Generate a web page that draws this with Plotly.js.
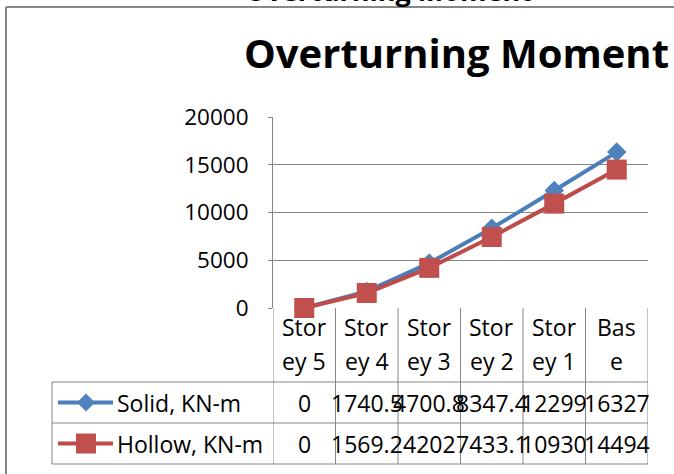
<!DOCTYPE html>
<html>
<head>
<meta charset="utf-8">
<script src="https://cdn.plot.ly/plotly-3.0.1.min.js"></script>
<style>html,body{margin:0;padding:0;background:#fff;}#chart{width:674px;height:474px;}</style>
</head>
<body>
<div id="chart"></div>
<script>
// ---- data ----
const categories = ["Storey 5", "Storey 4", "Storey 3", "Storey 2", "Storey 1", "Base"];
const catLine1 = ["Stor", "Stor", "Stor", "Stor", "Stor", "Bas"];
const catLine2 = ["ey 5", "ey 4", "ey 3", "ey 2", "ey 1", "e"];
const solid = [0, 1740.5, 4700.8, 8347.4, 12299, 16327];
const hollow = [0, 1569.2, 4202, 7433.1, 10930, 14494];
const solidLabels = ["0", "1740.5", "4700.8", "8347.4", "12299", "16327"];
const hollowLabels = ["0", "1569.2", "4202", "7433.1", "10930", "14494"];
const seriesNames = ["Solid, KN-m", "Hollow, KN-m"];
const yTicks = [0, 5000, 10000, 15000, 20000];
const chartTitle = "Overturning Moment";

// ---- layout helpers (pixels -> paper) ----
const W = 674, H = 474;
const px = x => x / W;
const py = y => 1 - y / H;
const FONT = "Open Sans, Noto Sans, sans-serif";
const GRID = "#868686";
const blueLine = "#4A7EBB", blueFill = "#4F81BD";
const redLine = "#BE4B48", redFill = "#C0504D";

const xIdx = categories.map((c, i) => i);

const traces = [
  {
    x: xIdx, y: solid, name: seriesNames[0], type: "scatter", mode: "lines+markers",
    line: {color: blueLine, width: 4},
    marker: {symbol: "diamond", size: 15, color: blueFill, line: {width: 0}},
    showlegend: false, cliponaxis: false
  },
  {
    x: xIdx, y: hollow, name: seriesNames[1], type: "scatter", mode: "lines+markers",
    line: {color: redLine, width: 4},
    marker: {symbol: "square", size: 20, color: redFill, line: {width: 0}},
    showlegend: false, cliponaxis: false
  }
];

const plotTop = 117, plotBot = 308, plotLeft = 273, plotRight = 648;
const hdrBot = 382, row1Bot = 423, row2Bot = 464, legLeft = 52;

const shapes = [];
const lineStyle = {color: GRID, width: 1};
// column boundaries of the data table
for (let i = 0; i <= categories.length; i++) {
  shapes.push({type: "line", xref: "x", yref: "paper", x0: i - 0.5, x1: i - 0.5,
    y0: py(plotBot), y1: py(row2Bot), line: lineStyle});
}
// row lines
[hdrBot, row1Bot, row2Bot].forEach(y => {
  shapes.push({type: "line", xref: "paper", yref: "paper", x0: px(legLeft), x1: px(plotRight),
    y0: py(y), y1: py(y), line: lineStyle});
});
// legend column left edge
shapes.push({type: "line", xref: "paper", yref: "paper", x0: px(legLeft), x1: px(legLeft),
  y0: py(hdrBot), y1: py(row2Bot), line: lineStyle});
// outer chart border (top + left)
shapes.push({type: "line", xref: "paper", yref: "paper", x0: px(6), x1: 1, y0: py(7), y1: py(7),
  line: {color: "#878787", width: 2}});
shapes.push({type: "line", xref: "paper", yref: "paper", x0: px(6), x1: px(6), y0: py(7), y1: 0,
  line: {color: "#878787", width: 2}});

// legend keys in the table
const keyRows = [(hdrBot + row1Bot) / 2, (row1Bot + row2Bot) / 2];
const keyX0 = 58, keyX1 = 113, keyC = 86;
[[blueLine, blueFill, "diamond"], [redLine, redFill, "square"]].forEach((s, k) => {
  const yc = keyRows[k];
  shapes.push({type: "line", xref: "paper", yref: "paper", x0: px(keyX0), x1: px(keyX1),
    y0: py(yc), y1: py(yc), line: {color: s[0], width: 4}});
  if (s[2] === "diamond") {
    const r = 9;
    shapes.push({type: "path", xref: "paper", yref: "paper",
      path: `M ${px(keyC)},${py(yc - r)} L ${px(keyC + r)},${py(yc)} L ${px(keyC)},${py(yc + r)} L ${px(keyC - r)},${py(yc)} Z`,
      fillcolor: s[1], line: {width: 0}});
  } else {
    const r = 10;
    shapes.push({type: "rect", xref: "paper", yref: "paper", x0: px(keyC - r), x1: px(keyC + r),
      y0: py(yc + r), y1: py(yc - r), fillcolor: s[1], line: {width: 0}});
  }
});

const annotations = [];
const tfont = {family: FONT, size: 23, color: "#000"};
categories.forEach((c, i) => {
  annotations.push({x: i, xref: "x", y: py(327), yref: "paper", text: catLine1[i], showarrow: false,
    xanchor: "center", yanchor: "middle", font: tfont});
  annotations.push({x: i, xref: "x", y: py(361), yref: "paper", text: catLine2[i], showarrow: false,
    xanchor: "center", yanchor: "middle", font: tfont});
  annotations.push({x: i, xref: "x", y: py(keyRows[0]), yref: "paper", text: solidLabels[i], showarrow: false,
    xanchor: "center", yanchor: "middle", font: tfont});
  annotations.push({x: i, xref: "x", y: py(keyRows[1]), yref: "paper", text: hollowLabels[i], showarrow: false,
    xanchor: "center", yanchor: "middle", font: tfont});
});
seriesNames.forEach((n, k) => {
  annotations.push({x: px(115), xref: "paper", y: py(keyRows[k]), yref: "paper", text: n, showarrow: false,
    xanchor: "left", yanchor: "middle", font: tfont});
});
// main title
annotations.push({x: px(456), xref: "paper", y: py(52), yref: "paper", text: "<b>" + chartTitle + "</b>",
  showarrow: false, xanchor: "center", yanchor: "middle", font: {family: FONT, size: 40, color: "#000"}});
// clipped title from the chart above
annotations.push({x: px(388), xref: "paper", y: py(11), yref: "paper", text: "<b>" + chartTitle + "</b>",
  showarrow: false, xanchor: "center", yanchor: "bottom", font: {family: FONT, size: 27, color: "#000"}});

const layout = {
  width: W, height: H,
  margin: {l: 0, r: 0, t: 0, b: 0},
  paper_bgcolor: "#fff", plot_bgcolor: "#fff",
  showlegend: false,
  xaxis: {
    domain: [px(plotLeft), px(plotRight)], range: [-0.5, categories.length - 0.5],
    showticklabels: false, showgrid: false, zeroline: false, showline: false, ticks: ""
  },
  yaxis: {
    domain: [py(plotBot), py(plotTop)], range: [0, 20000],
    tickvals: yTicks, ticktext: yTicks.map(String),
    showgrid: true, gridcolor: GRID, gridwidth: 1, zeroline: false,
    showline: true, linecolor: GRID, linewidth: 1,
    ticks: "outside", ticklen: 4, tickcolor: GRID,
    ticklabelstandoff: 15,
    tickfont: {family: FONT, size: 22.5, color: "#000"}
  },
  shapes: shapes,
  annotations: annotations
};

Plotly.newPlot("chart", traces, layout, {staticPlot: true, displayModeBar: false});
</script>
</body>
</html>
